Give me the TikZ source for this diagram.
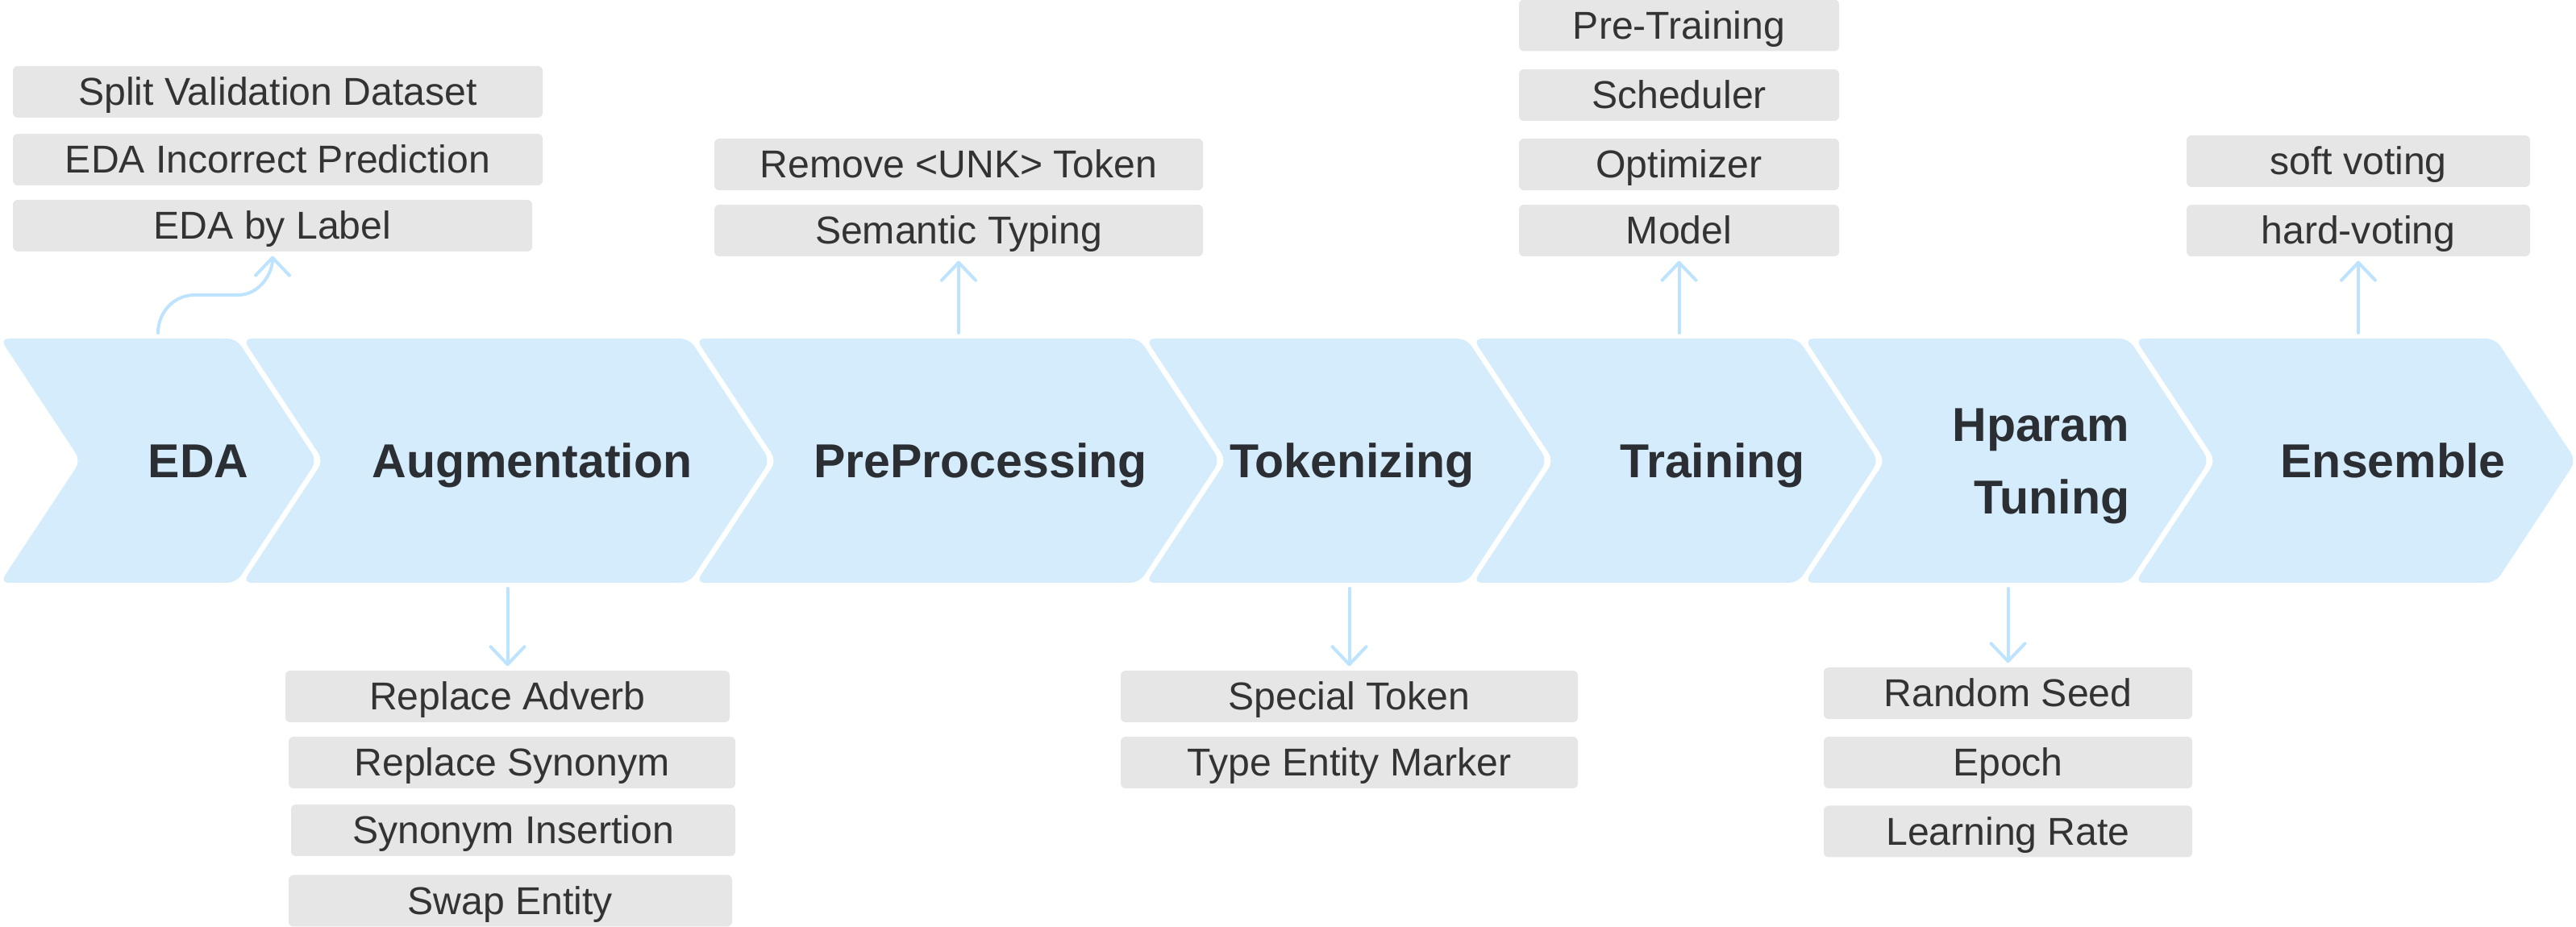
\documentclass[tikz,border=0pt]{standalone}
\usepackage{fontspec}
\setmainfont{Liberation Sans}
\usetikzlibrary{arrows.meta}

\definecolor{chevblue}{HTML}{D5ECFD}
\definecolor{linkblue}{HTML}{BDE3FF}
\definecolor{itemgray}{HTML}{E6E6E6}
\definecolor{titleink}{HTML}{2B2F33}
\definecolor{itemink}{HTML}{333333}

\tikzset{
  chev/.style={fill=chevblue, rounded corners=0.11cm},
  stagefont/.style={inner sep=0pt, text=titleink, font=\fontsize{16.8}{25.6}\selectfont\bfseries},
  stage/.style={stagefont, text height=0.42cm, text depth=0pt},
  item/.style={fill=itemgray, rounded corners=0.06cm, minimum height=0.64cm, inner sep=0pt,
    text height=0.34cm, text depth=0pt, text=itemink, font=\fontsize{13.7}{16}\selectfont},
  link/.style={draw=linkblue, line width=0.04cm, line cap=round, shorten >=0.05cm,
    -{Straight Barb[length=0.22cm,width=0.42cm,round]}},
}

\begin{document}
\begin{tikzpicture}
        \useasboundingbox (0,0) rectangle (31.95,-11.5);
        % chevrons
        \fill[chev] (0,-4.2) -- (2.93,-4.2) -- (3.93,-5.715) -- (2.93,-7.23) -- (0,-7.23) -- (1,-5.715) -- cycle;
        \fill[chev] (3.01,-4.2) -- (8.55,-4.2) -- (9.55,-5.715) -- (8.55,-7.23) -- (3.01,-7.23) -- (4.01,-5.715) -- cycle;
        \fill[chev] (8.63,-4.2) -- (14.13,-4.2) -- (15.13,-5.715) -- (14.13,-7.23) -- (8.63,-7.23) -- (9.63,-5.715) -- cycle;
        \fill[chev] (14.21,-4.2) -- (18.19,-4.2) -- (19.19,-5.715) -- (18.19,-7.23) -- (14.21,-7.23) -- (15.21,-5.715) -- cycle;
        \fill[chev] (18.27,-4.2) -- (22.30,-4.2) -- (23.30,-5.715) -- (22.30,-7.23) -- (18.27,-7.23) -- (19.27,-5.715) -- cycle;
        \fill[chev] (22.38,-4.2) -- (26.40,-4.2) -- (27.40,-5.715) -- (26.40,-7.23) -- (22.38,-7.23) -- (23.38,-5.715) -- cycle;
        \fill[chev] (26.48,-4.2) -- (30.95,-4.2) -- (31.95,-5.715) -- (30.95,-7.23) -- (26.48,-7.23) -- (27.48,-5.715) -- cycle;
        \node[stage] (eda) at (2.46,-5.715) {EDA};
        \node[stage] (aug) at (6.60,-5.715) {Augmentation};
        \node[stage] (pre) at (12.16,-5.715) {PreProcessing};
        \node[stage] (tok) at (16.77,-5.715) {Tokenizing};
        \node[stage] (train) at (21.24,-5.715) {Training};
        \node[stagefont, align=right, anchor=east] (hparam) at (26.42,-5.78) {Hparam\\Tuning};
        \node[stage] (ens) at (29.68,-5.715) {Ensemble};
        \coordinate (up) at (0,-4.13);
        \coordinate (down) at (0,-7.30);
        \coordinate (edaout) at (1.96,-4.13);
        % EDA
        \node[item, minimum width=6.57cm] (split) at (3.445,-1.14) {Split Validation Dataset};
        \node[item, minimum width=6.57cm] (incorrect) at (3.445,-1.98) {EDA Incorrect Prediction};
        \node[item, minimum width=6.44cm] (bylabel) at (3.38,-2.80) {EDA by Label};
        % Augmentation
        \node[item, minimum width=5.51cm] (adverb) at (6.295,-8.64) {Replace Adverb};
        \node[item, minimum width=5.54cm] (synonym) at (6.35,-9.46) {Replace Synonym};
        \node[item, minimum width=5.51cm] (insertion) at (6.365,-10.30) {Synonym Insertion};
        \node[item, minimum width=5.50cm] (swap) at (6.33,-11.175) {Swap Entity};
        % PreProcessing
        \node[item, minimum width=6.06cm] (unk) at (11.89,-2.04) {Remove <UNK> Token};
        \node[item, minimum width=6.06cm] (semantic) at (11.89,-2.86) {Semantic Typing};
        % Tokenizing
        \node[item, minimum width=5.67cm] (special) at (16.735,-8.64) {Special Token};
        \node[item, minimum width=5.67cm] (marker) at (16.735,-9.46) {Type Entity Marker};
        % Training
        \node[item, minimum width=3.97cm] (pretrain) at (20.825,-0.315) {Pre-Training};
        \node[item, minimum width=3.97cm] (scheduler) at (20.825,-1.18) {Scheduler};
        \node[item, minimum width=3.97cm] (optimizer) at (20.825,-2.04) {Optimizer};
        \node[item, minimum width=3.97cm] (model) at (20.825,-2.86) {Model};
        % Hparam Tuning
        \node[item, minimum width=4.57cm] (seed) at (24.905,-8.60) {Random Seed};
        \node[item, minimum width=4.57cm] (epoch) at (24.905,-9.46) {Epoch};
        \node[item, minimum width=4.57cm] (lr) at (24.905,-10.315) {Learning Rate};
        % Ensemble
        \node[item, minimum width=4.26cm] (soft) at (29.25,-2.00) {soft voting};
        \node[item, minimum width=4.26cm] (hard) at (29.25,-2.86) {hard-voting};
        % links
        \draw[link] (edaout) to[out=90,in=180] ++(0.45,0.47) -- ++(0.54,0) to[out=0,in=-90] (bylabel.south);
        \draw[link] (semantic.south |- up) -- (semantic.south);
        \draw[link] (model.south |- up) -- (model.south);
        \draw[link] (hard.south |- up) -- (hard.south);
        \draw[link] (adverb.north |- down) -- (adverb.north);
        \draw[link] (special.north |- down) -- (special.north);
        \draw[link] (seed.north |- down) -- (seed.north);
    \end{tikzpicture}
\end{document}
